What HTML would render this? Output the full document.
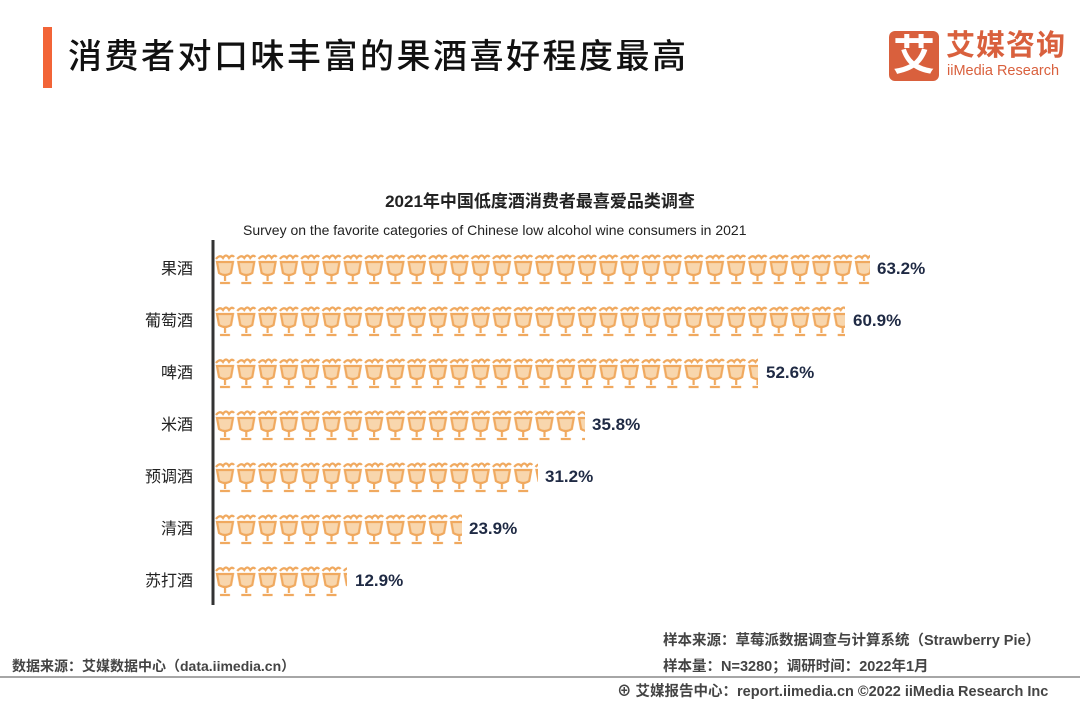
<!DOCTYPE html>
<html><head><meta charset="utf-8"><style>
body{margin:0;width:1080px;height:702px;background:#fff;position:relative;overflow:hidden;font-family:"Liberation Sans","Noto Sans CJK SC",sans-serif;}
.a{position:absolute;white-space:nowrap;}
</style></head><body>
<div class="a" style="left:43px;top:27px;width:9px;height:61px;background:#f26437"></div>
<div class="a" style="left:68px;top:34px;font-size:34px;letter-spacing:2.5px;color:#111;line-height:46px;font-weight:500;">消费者对口味丰富的果酒喜好程度最高</div>
<div class="a" style="left:889px;top:31px;width:50px;height:50px;background:#d9603d;border-radius:6px;color:#fff;font-size:42px;line-height:50px;text-align:center;font-weight:bold;">艾</div>
<div class="a" style="left:946px;top:29px;font-size:29px;color:#d9603d;letter-spacing:1px;font-weight:bold;line-height:34px;">艾媒咨询</div>
<div class="a" style="left:947px;top:62px;font-size:14.5px;color:#d9603d;line-height:18px;">iiMedia Research</div>
<div class="a" style="left:0;width:1080px;top:187px;text-align:center;font-size:17px;font-weight:bold;color:#222;">2021年中国低度酒消费者最喜爱品类调查</div>
<div class="a" style="left:243px;top:222px;font-size:14px;color:#222;">Survey on the favorite categories of Chinese low alcohol wine consumers in 2021</div>
<svg class="a" style="left:0;top:0" width="1080" height="702">
<defs>
<pattern id="g" x="214" y="0" width="21.3" height="34" patternUnits="userSpaceOnUse">
<g fill="none" stroke="#f0a95f" stroke-width="2.2">
<path d="M2 6 Q6 1 9 5 Q12 0 15 5 Q18 1 20 4" />
<path d="M3 9 H19 L17 20 Q11 24 5 20 Z" fill="#f8d6ad"/>
<path d="M11 23 V28 M6 30 H16"/>
</g>
</pattern>
</defs>
<line x1="213" y1="240" x2="213" y2="605" stroke="#333" stroke-width="3"/>
<g font-size="16" fill="#222" text-anchor="end" font-family="Liberation Sans,Noto Sans CJK SC,sans-serif">
<text x="193" y="274">果酒</text><text x="193" y="326">葡萄酒</text><text x="193" y="378">啤酒</text><text x="193" y="430">米酒</text><text x="193" y="482">预调酒</text><text x="193" y="534">清酒</text><text x="193" y="586">苏打酒</text>
</g>
<g>
<g transform="translate(0,253)"><rect x="214" y="0" width="656" height="34" fill="url(#g)"/></g>
<g transform="translate(0,305)"><rect x="214" y="0" width="631" height="34" fill="url(#g)"/></g>
<g transform="translate(0,357)"><rect x="214" y="0" width="544" height="34" fill="url(#g)"/></g>
<g transform="translate(0,409)"><rect x="214" y="0" width="371" height="34" fill="url(#g)"/></g>
<g transform="translate(0,461)"><rect x="214" y="0" width="324" height="34" fill="url(#g)"/></g>
<g transform="translate(0,513)"><rect x="214" y="0" width="248" height="34" fill="url(#g)"/></g>
<g transform="translate(0,565)"><rect x="214" y="0" width="133" height="34" fill="url(#g)"/></g>
</g>
<g font-size="17" font-weight="bold" fill="#1f2a44" font-family="Liberation Sans,sans-serif">
<text x="877" y="274">63.2%</text><text x="853" y="326">60.9%</text><text x="766" y="378">52.6%</text><text x="592" y="430">35.8%</text><text x="545" y="482">31.2%</text><text x="469" y="534">23.9%</text><text x="355" y="586">12.9%</text>
</g>
<line x1="0" y1="677" x2="1080" y2="677" stroke="#888" stroke-width="1.5"/>
</svg>
<div class="a" style="left:12px;top:656px;font-size:14px;color:#444;font-weight:bold;">数据来源：艾媒数据中心（data.iimedia.cn）</div>
<div class="a" style="left:663px;top:629px;font-size:14.5px;color:#444;font-weight:bold;">样本来源：草莓派数据调查与计算系统（Strawberry Pie）</div>
<div class="a" style="left:663px;top:655px;font-size:14.5px;color:#444;font-weight:bold;">样本量：N=3280；调研时间：2022年1月</div>
<div class="a" style="left:617px;top:680px;font-size:14.5px;color:#444;font-weight:bold;">⊕ 艾媒报告中心：report.iimedia.cn  ©2022  iiMedia Research  Inc</div>
</body></html>
